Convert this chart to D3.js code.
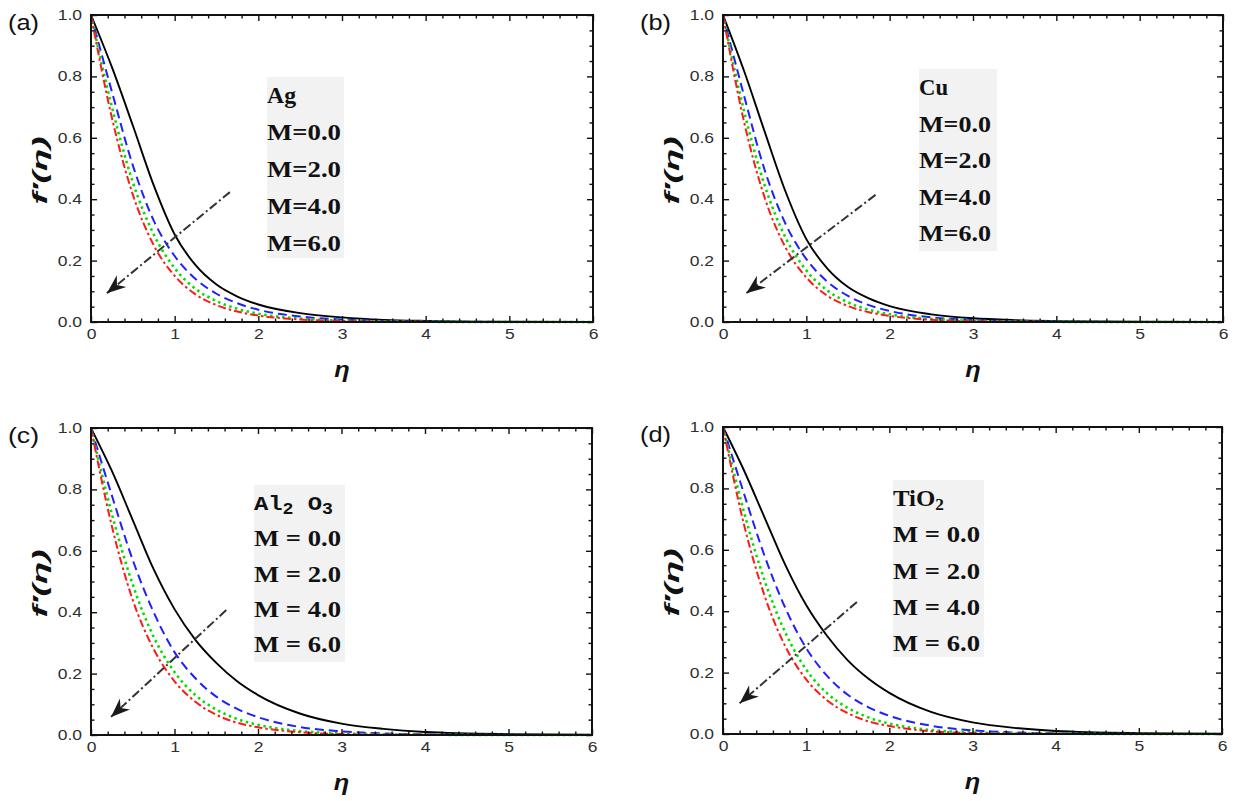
<!DOCTYPE html>
<html>
<head>
<meta charset="utf-8">
<script src="https://cdn.jsdelivr.net/npm/d3@7"></script>
<style>
  body { margin: 0; background: #fff; }
  svg { display: block; }
</style>
</head>
<body>
<div id="chart"></div>
<script>
// similarity variable grid, shared by all curves
const eta = [0, 0.25, 0.5, 0.75, 1, 1.25, 1.5, 1.75, 2, 2.5, 3, 3.5, 4, 5, 6];

// (a) Ag
const agM0 = [1, 0.83, 0.64, 0.445, 0.285, 0.185, 0.122, 0.083, 0.057, 0.029, 0.015, 0.007, 0.0035, 0.0008, 0];
const agM2 = [1, 0.75, 0.51, 0.33, 0.215, 0.14, 0.092, 0.061, 0.04, 0.018, 0.008, 0.0035, 0.0015, 0.0003, 0];
const agM4 = [1, 0.70, 0.455, 0.285, 0.175, 0.108, 0.068, 0.043, 0.027, 0.011, 0.0045, 0.0018, 0.0007, 0.0001, 0];
const agM6 = [1, 0.665, 0.415, 0.25, 0.15, 0.09, 0.055, 0.034, 0.021, 0.008, 0.003, 0.001, 0.0004, 0, 0];

// (b) Cu
const cuM0 = [1, 0.82, 0.62, 0.425, 0.27, 0.175, 0.114, 0.077, 0.052, 0.025, 0.012, 0.006, 0.003, 0.0006, 0];
const cuM2 = [1, 0.74, 0.495, 0.32, 0.205, 0.132, 0.085, 0.055, 0.036, 0.015, 0.0065, 0.0028, 0.0012, 0.0002, 0];
const cuM4 = [1, 0.69, 0.445, 0.275, 0.168, 0.103, 0.064, 0.04, 0.025, 0.01, 0.004, 0.0015, 0.0006, 0.0001, 0];
const cuM6 = [1, 0.655, 0.405, 0.243, 0.145, 0.086, 0.052, 0.032, 0.02, 0.007, 0.0025, 0.0009, 0.0003, 0, 0];

// (c) Al2O3
const alM0 = [1, 0.86, 0.70, 0.54, 0.41, 0.31, 0.235, 0.175, 0.13, 0.07, 0.037, 0.02, 0.01, 0.003, 0.001];
const alM2 = [1, 0.78, 0.57, 0.40, 0.27, 0.185, 0.125, 0.085, 0.058, 0.026, 0.012, 0.005, 0.002, 0.0005, 0];
const alM4 = [1, 0.72, 0.49, 0.32, 0.205, 0.13, 0.083, 0.052, 0.033, 0.013, 0.005, 0.002, 0.001, 0, 0];
const alM6 = [1, 0.68, 0.44, 0.28, 0.175, 0.108, 0.066, 0.04, 0.025, 0.009, 0.003, 0.001, 0.0005, 0, 0];

// (d) TiO2
const tiM0 = [1, 0.86, 0.705, 0.55, 0.42, 0.32, 0.24, 0.18, 0.134, 0.072, 0.038, 0.02, 0.01, 0.003, 0.001];
const tiM2 = [1, 0.785, 0.58, 0.41, 0.28, 0.19, 0.128, 0.087, 0.059, 0.027, 0.012, 0.005, 0.002, 0.0005, 0];
const tiM4 = [1, 0.725, 0.50, 0.33, 0.21, 0.133, 0.085, 0.054, 0.034, 0.013, 0.005, 0.002, 0.001, 0, 0];
const tiM6 = [1, 0.685, 0.45, 0.285, 0.178, 0.11, 0.068, 0.041, 0.026, 0.009, 0.003, 0.001, 0.0005, 0, 0];

// arrows (start, tip) in data units
const arrowAg = [[1.66, 0.423], [0.19, 0.094]];
const arrowCu = [[1.83, 0.414], [0.28, 0.094]];
const arrowAl = [[1.62, 0.407], [0.24, 0.059]];
const arrowTi = [[1.61, 0.43], [0.20, 0.10]];

const xTicks = [0, 1, 2, 3, 4, 5, 6];
const yTicks = [0, 0.2, 0.4, 0.6, 0.8, 1.0];
const panelTags = ["(a)", "(b)", "(c)", "(d)"];
const mTight = ["M=0.0", "M=2.0", "M=4.0", "M=6.0"];
const mSpaced = ["M = 0.0", "M = 2.0", "M = 4.0", "M = 6.0"];

// line styles for M = 0, 2, 4, 6
const styles = [
  {color: "#000000", dash: null, w: 1.9},
  {color: "#1f1fff", dash: "9,5", w: 2},
  {color: "#00e000", dash: "2.5,3.5", w: 2.6},
  {color: "#ff1a1a", dash: "8,3,2.5,3", w: 2}
];

const panels = [
  {tag: 0, series: [agM0, agM2, agM4, agM6], arrow: arrowAg, labels: mTight, title: "Ag",
   box: {l: 91, r: 593, t: 15, b: 322}, legend: {x0: 267, x1: 344, y0: 77, y1: 258, step: 37, tw: 29, lw: 74}},
  {tag: 1, series: [cuM0, cuM2, cuM4, cuM6], arrow: arrowCu, labels: mTight, title: "Cu",
   box: {l: 723, r: 1223, t: 15, b: 322}, legend: {x0: 919, x1: 997, y0: 69, y1: 251, step: 36.5, tw: 29, lw: 72}},
  {tag: 2, series: [alM0, alM2, alM4, alM6], arrow: arrowAl, labels: mSpaced, title: "Al2O3",
   box: {l: 91, r: 592, t: 428, b: 735}, legend: {x0: 254, x1: 345, y0: 485, y1: 662, step: 35.3, tw: 79, lw: 87}},
  {tag: 3, series: [tiM0, tiM2, tiM4, tiM6], arrow: arrowTi, labels: mSpaced, title: "TiO2",
   box: {l: 723, r: 1222, t: 427, b: 734}, legend: {x0: 893, x1: 984, y0: 480, y1: 657, step: 36.3, tw: 51, lw: 87}}
];

const W = 1235, H = 801;
const svg = d3.select("#chart").append("svg").attr("width", W).attr("height", H);

// arrow head
svg.append("defs").append("marker")
  .attr("id", "head")
  .attr("viewBox", "-20 -8 22 16")
  .attr("refX", 0).attr("refY", 0)
  .attr("markerWidth", 22).attr("markerHeight", 16)
  .attr("markerUnits", "userSpaceOnUse")
  .attr("orient", "auto")
  .append("path")
  .attr("d", "M0,0 L-19,-7.5 L-13,0 L-19,7.5 Z")
  .attr("fill", "#1a1a1a");

// widen text horizontally (the figure is stretched)
function stretch(sel, k) {
  sel.each(function() {
    const w = this.getComputedTextLength();
    d3.select(this).attr("textLength", w * k).attr("lengthAdjust", "spacingAndGlyphs");
  });
}
function fitTo(sel, width) {
  sel.attr("textLength", width).attr("lengthAdjust", "spacingAndGlyphs");
}

const sans = "Liberation Sans, Arial, sans-serif";
const serif = "Liberation Serif, Times New Roman, serif";

panels.forEach(p => {
  const b = p.box;
  const x = d3.scaleLinear().domain([0, 6]).range([b.l, b.r]);
  const y = d3.scaleLinear().domain([0, 1]).range([b.b, b.t]);
  const g = svg.append("g");

  const minorX = d3.range(0, 30).map(i => i * 0.2).filter(v => Math.abs(v - Math.round(v)) > 1e-6);
  const minorY = d3.range(0, 20).map(i => i * 0.05).filter(v => Math.abs(v / 0.2 - Math.round(v / 0.2)) > 1e-6);

  // curves
  const line = d3.line().x(d => x(d[0])).y(d => y(d[1])).curve(d3.curveMonotoneX);
  p.series.forEach((s, i) => {
    const st = styles[i];
    g.append("path")
      .datum(eta.map((e, j) => [e, s[j]]))
      .attr("d", line)
      .attr("fill", "none")
      .attr("stroke", st.color)
      .attr("stroke-width", st.w)
      .attr("stroke-dasharray", st.dash);
  });

  // axes: ticks pointing inward
  const axes = [
    {fn: d3.axisBottom, s: x, pos: `translate(0,${b.b})`, major: xTicks, minor: minorX, fmt: d3.format("d")},
    {fn: d3.axisTop, s: x, pos: `translate(0,${b.t})`, major: xTicks, minor: minorX, fmt: null},
    {fn: d3.axisLeft, s: y, pos: `translate(${b.l},0)`, major: yTicks, minor: minorY, fmt: d3.format(".1f")},
    {fn: d3.axisRight, s: y, pos: `translate(${b.r},0)`, major: yTicks, minor: minorY, fmt: null}
  ];
  axes.forEach(a => {
    const gm = g.append("g").attr("transform", a.pos)
      .call(a.fn(a.s).tickValues(a.minor).tickSize(-3.5).tickFormat(""));
    gm.select(".domain").remove();
    gm.selectAll("line").attr("stroke", "#111").attr("stroke-width", 1.4);
    const gM = g.append("g").attr("transform", a.pos)
      .call(a.fn(a.s).tickValues(a.major).tickSize(-6).tickPadding(a.fn === d3.axisLeft ? 9 : 7)
        .tickFormat(a.fmt ? a.fmt : ""));
    gM.select(".domain").remove();
    gM.selectAll("line").attr("stroke", "#111").attr("stroke-width", 1.4);
    gM.selectAll("text")
      .attr("fill", "#2e2e2e")
      .style("font-family", sans)
      .style("font-size", "14px");
    if (a.fmt) stretch(gM.selectAll("text"), 1.25);
  });

  // frame
  g.append("rect")
    .attr("x", b.l).attr("y", b.t)
    .attr("width", b.r - b.l).attr("height", b.b - b.t)
    .attr("fill", "none").attr("stroke", "#111").attr("stroke-width", 2);

  // arrow
  g.append("line")
    .attr("x1", x(p.arrow[0][0])).attr("y1", y(p.arrow[0][1]))
    .attr("x2", x(p.arrow[1][0])).attr("y2", y(p.arrow[1][1]))
    .attr("stroke", "#333").attr("stroke-width", 2)
    .attr("stroke-dasharray", "9,3,2,3")
    .attr("marker-end", "url(#head)");

  // legend box
  const L = p.legend;
  g.append("rect")
    .attr("x", L.x0).attr("y", L.y0)
    .attr("width", L.x1 - L.x0).attr("height", L.y1 - L.y0)
    .attr("fill", "#f2f2f2");

  const cy0 = L.y0 + 18;
  let t;
  if (p.title === "Al2O3") {
    t = g.append("text").attr("x", L.x0).attr("y", cy0).attr("dy", "0.35em")
      .style("font-family", "Liberation Mono, Courier New, monospace")
      .style("font-weight", "bold").style("font-size", "21px").attr("fill", "#111");
    t.append("tspan").text("Al");
    t.append("tspan").attr("dy", 4).style("font-size", "16px").text("2");
    t.append("tspan").attr("dy", -4).text(" O");
    t.append("tspan").attr("dy", 4).style("font-size", "16px").text("3");
  } else if (p.title === "TiO2") {
    t = g.append("text").attr("x", L.x0).attr("y", cy0).attr("dy", "0.35em")
      .style("font-family", serif)
      .style("font-weight", "bold").style("font-size", "23px").attr("fill", "#111");
    t.append("tspan").text("TiO");
    t.append("tspan").attr("dy", 4).style("font-size", "16px").text("2");
  } else {
    t = g.append("text").attr("x", L.x0).attr("y", cy0).attr("dy", "0.35em")
      .style("font-family", serif)
      .style("font-weight", "bold").style("font-size", "23px").attr("fill", "#111")
      .text(p.title);
  }
  fitTo(t, L.tw);

  p.labels.forEach((lab, i) => {
    const tt = g.append("text")
      .attr("x", L.x0).attr("y", cy0 + L.step * (i + 1)).attr("dy", "0.35em")
      .style("font-family", serif)
      .style("font-weight", "bold").style("font-size", "23px").attr("fill", "#111")
      .text(lab);
    fitTo(tt, L.lw);
  });

  // axis titles
  const xl = g.append("text")
    .attr("x", (b.l + b.r) / 2).attr("y", b.b + 55)
    .attr("text-anchor", "middle")
    .style("font-family", sans).style("font-weight", "bold").style("font-style", "italic")
    .style("font-size", "22px").attr("fill", "#111")
    .text("η");
  stretch(xl, 1.15);

  const yl = g.append("text")
    .attr("transform", `translate(${b.l - 44},${(b.t + b.b) / 2 + 2}) rotate(-90)`)
    .attr("text-anchor", "middle")
    .style("font-family", sans).style("font-weight", "bold").style("font-style", "italic")
    .style("font-size", "21px").attr("fill", "#111")
    .text("f\u2032(η)");
  fitTo(yl, 68);

  // panel tag
  const tg = g.append("text")
    .attr("x", b.l - 83).attr("y", b.t + 15)
    .style("font-family", sans).style("font-size", "22px").attr("fill", "#111")
    .text(panelTags[p.tag]);
  fitTo(tg, 31);
});
</script>
</body>
</html>
